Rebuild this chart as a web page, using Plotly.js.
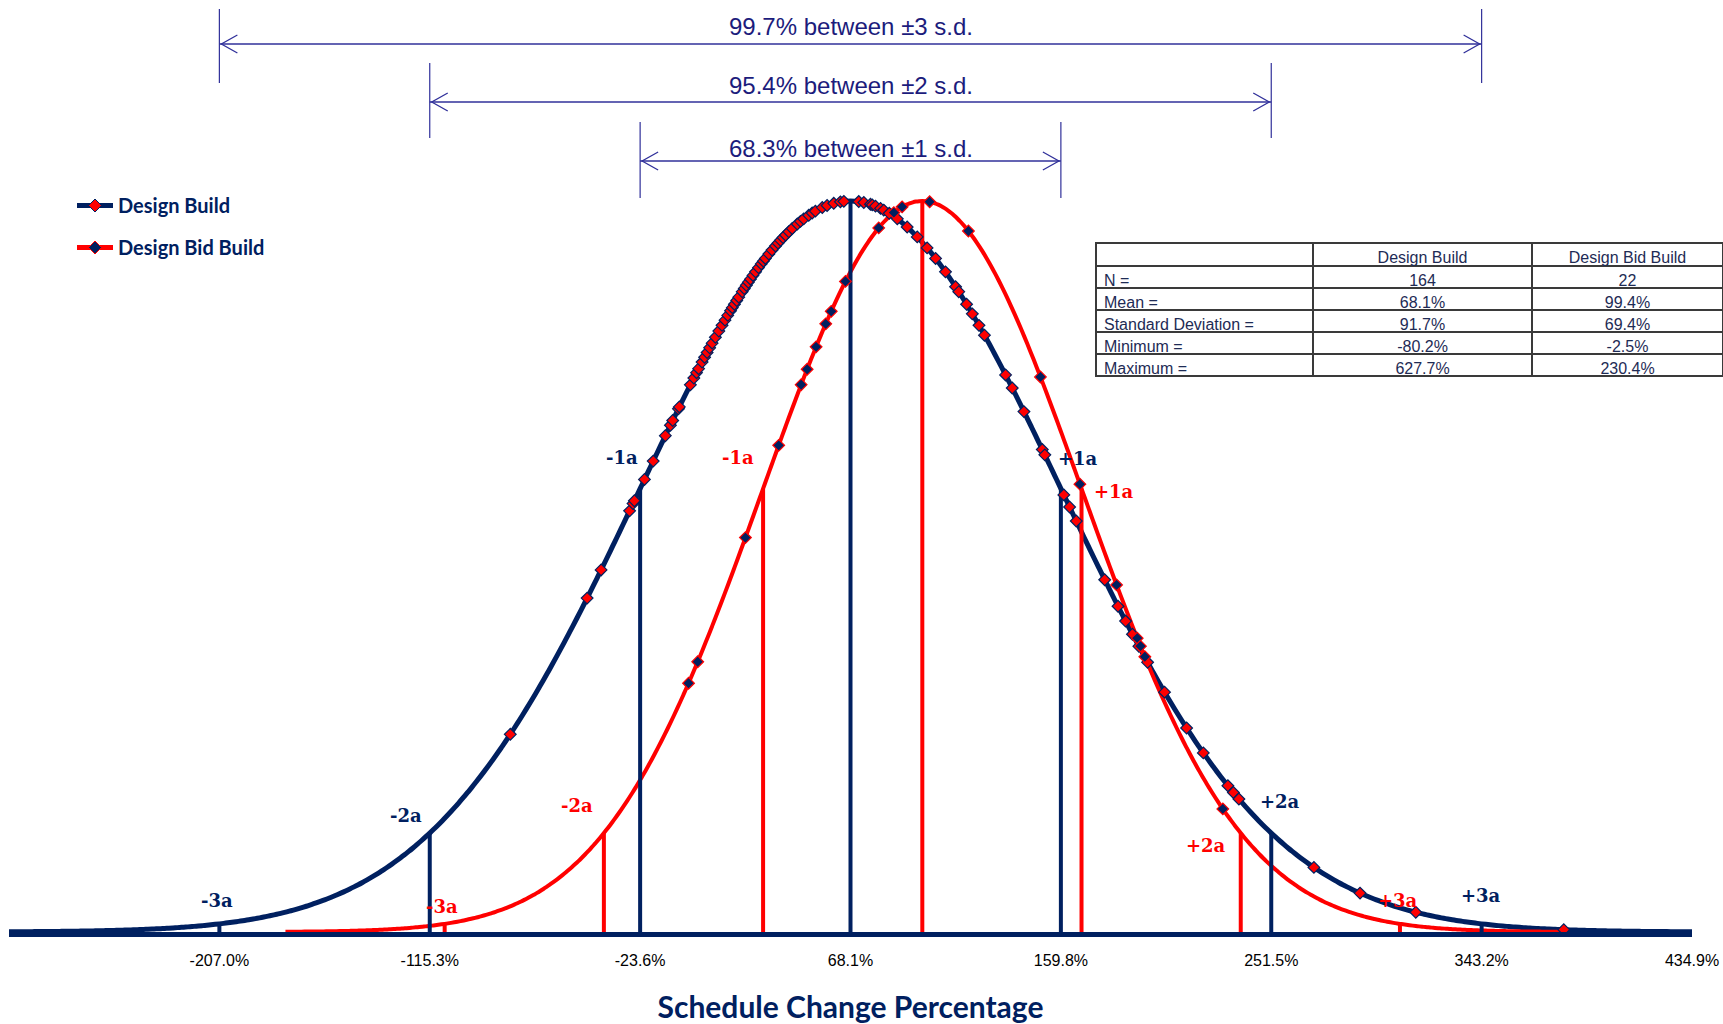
<!DOCTYPE html>
<html>
<head>
<meta charset="utf-8">
<script src="https://cdn.plot.ly/plotly-3.0.1.min.js"></script>
<style>
html, body { margin: 0; padding: 0; background: #ffffff; }
#chart { width: 1723px; height: 1024px; }
</style>
</head>
<body>
<div id="chart"></div>
<script>
// ---------------- DATA ----------------
const seriesNames = ['Design Build', 'Design Bid Build'];
const seriesN     = [164, 22];
const seriesMean  = [68.1, 99.4];
const seriesSD    = [91.7, 69.4];
const seriesMin   = [-80.2, -2.5];
const seriesMax   = [627.7, 230.4];

// individual project values (schedule change %)
const dbValues = [
  -80.2, -46.7, -40.6, -28.2, -26.7, -26.1, -21.7, -17.9, -12.6, -10.4, -9.4, -6.9, -6.5,
  -1.7, -0.2, 1.0, 1.9, 3.4, 4.5, 5.6, 6.7, 7.8, 9.2, 10.7, 12.1, 13.4, 14.6, 15.8, 16.6,
  17.5, 18.5, 19.4, 20.9, 21.8, 22.7, 23.6, 24.5, 25.6, 26.7, 28.0, 29.2, 30.1, 31.0, 32.5,
  33.9, 35.4, 36.5, 37.6, 38.7, 39.8, 41.2, 42.7, 44.9, 46.3, 47.7, 49.9, 51.4, 52.8, 55.8,
  57.9, 60.8, 63.7, 65.2, 71.7, 73.9, 76.8, 77.6, 79.0, 81.2, 82.6, 85.0, 88.5, 92.8, 97.2,
  101.5, 105.2, 109.5, 113.9, 115.3, 118.7, 121.2, 124.1, 126.5, 135.7, 138.6, 143.7, 151.7,
  152.8, 161.1, 163.6, 166.5, 178.9, 184.7, 188.0, 191.0, 193.8, 197.6, 205.0, 214.6, 221.9,
  232.6, 235.0, 237.4, 270.1, 290.2, 314.5, 379.0, 627.7
];
const dbbValues = [
  -2.5, 1.5, 22.3, 36.8, 46.6, 49.2, 53.1, 57.3, 59.7, 65.9, 80.4, 87.0, 90.6, 102.6,
  119.5, 150.9, 168.1, 184.1, 193.1, 194.5, 196.4, 230.4
];

const tickValues = [-207.0, -115.3, -23.6, 68.1, 159.8, 251.5, 343.2, 434.9];
const tickLabels = ['-207.0%', '-115.3%', '-23.6%', '68.1%', '159.8%', '251.5%', '343.2%', '434.9%'];
const xRange = [-298.7, 434.9];

const sdMultiples = [-3, -2, -1, 1, 2, 3];
const sdLabels    = ['-3a', '-2a', '-1a', '+1a', '+2a', '+3a'];
const rangeMultiples = [3, 2, 1];
const rangeTexts  = ['99.7% between ±3 s.d.', '95.4% between ±2 s.d.', '68.3% between ±1 s.d.'];

const tableRowLabels = ['N =', 'Mean =', 'Standard Deviation =', 'Minimum =', 'Maximum ='];

// ---------------- STYLE ----------------
const NAVY = '#002060';
const RED = '#FF0000';
const ARROW = '#30309a';
const ARROW_TEXT = '#1c1c7c';
const colors = [NAVY, RED];
const markerFill = [RED, NAVY];
const lineW = [5, 4];

const W = 1723, H = 1024;
const M = {l: 9, r: 0, t: 0, b: 92};
const plotW = W - M.l - M.r;
const plotH = H - M.t - M.b;
const axisRight = 1692;
const peakPx = 201;
const yTop = plotH / (plotH - peakPx);
const py = px => 1 - (px - M.t) / plotH;
const pxX = px => (px - M.l) / plotW;

// scaled normal density (peak = 1)
function dens(x, m, s) { const z = (x - m) / s; return Math.exp(-0.5 * z * z); }

const traces = [];
// curves (mean +/- 4 s.d.)
for (let i = 0; i < 2; i++) {
  const m = seriesMean[i], s = seriesSD[i];
  const xs = [], ys = [];
  const a = m - 4 * s, b = m + 4 * s, n = 400;
  for (let j = 0; j <= n; j++) { const x = a + (b - a) * j / n; xs.push(x); ys.push(dens(x, m, s)); }
  traces.push({type: 'scatter', mode: 'lines', x: xs, y: ys, showlegend: false, hoverinfo: 'skip',
    line: {color: colors[i], width: lineW[i], shape: 'spline'}});
}
// s.d. vertical lines
for (let i = 0; i < 2; i++) {
  const m = seriesMean[i], s = seriesSD[i];
  const xs = [], ys = [];
  [-3, -2, -1, 0, 1, 2, 3].forEach(k => { const x = m + k * s; xs.push(x, x, null); ys.push(0, dens(x, m, s), null); });
  traces.push({type: 'scatter', mode: 'lines', x: xs, y: ys, showlegend: false, hoverinfo: 'skip',
    line: {color: colors[i], width: 4}});
}
// data markers
[dbValues, dbbValues].forEach((vals, i) => {
  traces.push({type: 'scatter', mode: 'markers', x: vals, y: vals.map(v => dens(v, seriesMean[i], seriesSD[i])),
    showlegend: false, hoverinfo: 'skip',
    marker: {symbol: 'diamond', size: 9, color: markerFill[i], line: {color: colors[i], width: 1.2}}});
});
// legend entries
for (let i = 0; i < 2; i++) {
  traces.push({type: 'scatter', mode: 'lines+markers', x: [null], y: [null], name: seriesNames[i],
    legendgroup: 'g' + i, showlegend: true,
    line: {color: colors[i], width: 5},
    marker: {symbol: 'diamond', size: 10, color: markerFill[i], line: {color: colors[i], width: 1}}});
}
// statistics table
const fmt = v => v.toFixed(1) + '%';
const colDB  = [String(seriesN[0]), fmt(seriesMean[0]), fmt(seriesSD[0]), fmt(seriesMin[0]), fmt(seriesMax[0])];
const colDBB = [String(seriesN[1]), fmt(seriesMean[1]), fmt(seriesSD[1]), fmt(seriesMin[1]), fmt(seriesMax[1])];
traces.push({
  type: 'table',
  domain: {x: [pxX(1096), 1], y: [py(420), py(243)]},
  columnwidth: [217, 219, 191],
  header: {values: ['', seriesNames[0], seriesNames[1]], align: ['left', 'center', 'center'], height: 23,
    font: {family: 'Liberation Sans, Arial, sans-serif', size: 16, color: '#1e2b55'},
    line: {color: '#3a3a3a', width: 1.5}, fill: {color: '#ffffff'}},
  cells: {values: [tableRowLabels, colDB, colDBB], align: ['left', 'center', 'center'], height: 22,
    font: {family: 'Liberation Sans, Arial, sans-serif', size: 16, color: '#1e2b55'},
    line: {color: '#3a3a3a', width: 1.5}, fill: {color: '#ffffff'}}
});

// ---------------- ANNOTATIONS ----------------
const annotations = [];
const labelShift = [
  [[-2, 23], [-24, 18], [-18, 31], [17, 30], [9, 32], [-1, 28]],
  [[-3, 17], [-27, 28], [-25, 31], [32, -3], [-35, -12], [-2, 23]]
];
for (let i = 0; i < 2; i++) {
  sdMultiples.forEach((k, j) => {
    const x = seriesMean[i] + k * seriesSD[i];
    annotations.push({x: x, y: dens(x, seriesMean[i], seriesSD[i]), xref: 'x', yref: 'y',
      xanchor: 'center', yanchor: 'middle',
      text: sdLabels[j], showarrow: false, xshift: labelShift[i][j][0], yshift: labelShift[i][j][1],
      font: {family: 'DejaVu Serif, serif', size: 18, color: colors[i], weight: 700}});
  });
}
const arrowY = [44, 102, 161];
const textY = [27, 86, 148];
const vSpan = [[9, 83], [63, 138], [122, 198]];
const shapes = [];
rangeMultiples.forEach((k, j) => {
  const x0 = seriesMean[0] - k * seriesSD[0], x1 = seriesMean[0] + k * seriesSD[0];
  annotations.push({x: seriesMean[0], y: py(textY[j]), xref: 'x', yref: 'paper', text: rangeTexts[j],
    xanchor: 'center', yanchor: 'middle',
    showarrow: false, font: {family: 'Liberation Sans, Arial, sans-serif', size: 24, color: ARROW_TEXT}});
  shapes.push({type: 'line', xref: 'x', yref: 'paper', x0: x0, x1: x1, y0: py(arrowY[j]), y1: py(arrowY[j]),
    line: {color: ARROW, width: 1.3}});
  [x0, x1].forEach(xv => shapes.push({type: 'line', xref: 'x', yref: 'paper', x0: xv, x1: xv,
    y0: py(vSpan[j][0]), y1: py(vSpan[j][1]), line: {color: ARROW, width: 1.2}}));
  shapes.push({type: 'path', xref: 'x', yref: 'paper', xsizemode: 'pixel', ysizemode: 'pixel',
    xanchor: x0, yanchor: py(arrowY[j]), path: 'M 18,9 L 2,0 L 18,-9', line: {color: ARROW, width: 1.3}});
  shapes.push({type: 'path', xref: 'x', yref: 'paper', xsizemode: 'pixel', ysizemode: 'pixel',
    xanchor: x1, yanchor: py(arrowY[j]), path: 'M -18,9 L -2,0 L -18,-9', line: {color: ARROW, width: 1.3}});
});

const layout = {
  width: W, height: H,
  margin: M,
  paper_bgcolor: '#ffffff', plot_bgcolor: '#ffffff',
  showlegend: true,
  legend: {x: pxX(72), y: py(186), xanchor: 'left', yanchor: 'top', traceorder: 'grouped', tracegroupgap: 13,
    itemwidth: 36,
    bgcolor: 'rgba(0,0,0,0)', font: {family: 'Lato, sans-serif', size: 20, color: NAVY, weight: 700}},
  xaxis: {range: xRange, domain: [0, pxX(axisRight)], showgrid: false, zeroline: false,
    showline: true, linecolor: NAVY, linewidth: 5, ticks: '', tickvals: tickValues, ticktext: tickLabels,
    ticklabelstandoff: 10,
    tickfont: {family: 'Liberation Sans, Arial, sans-serif', size: 16, color: '#000000'},
    title: {text: 'Schedule Change Percentage', standoff: 31,
      font: {family: 'Lato, sans-serif', size: 30, color: NAVY, weight: 700}}},
  yaxis: {range: [0, yTop], visible: false, fixedrange: true},
  annotations: annotations,
  shapes: shapes,
  hovermode: false
};

Plotly.newPlot('chart', traces, layout, {displayModeBar: false, staticPlot: true});
</script>
</body>
</html>
